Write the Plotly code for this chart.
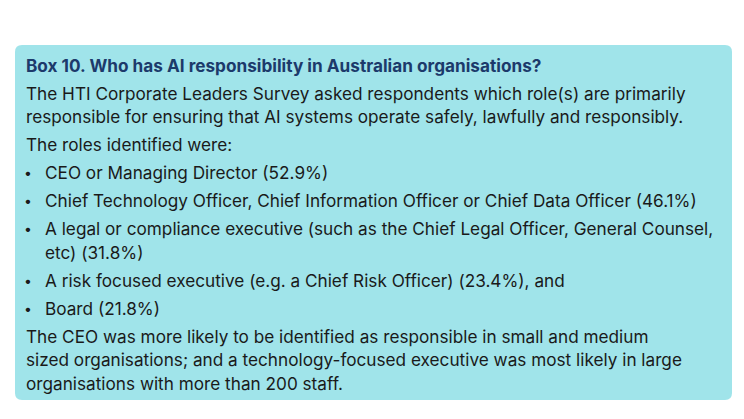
"""Box 10 - AI responsibility in Australian organisations"""
import plotly.graph_objects as go

TITLE = "Box 10. Who has AI responsibility in Australian organisations?"

INTRO = [
    "The HTI Corporate Leaders Survey asked respondents which role(s) are primarily",
    "responsible for ensuring that AI systems operate safely, lawfully and responsibly.",
]
LEAD_IN = ["The roles identified were:"]

# each role can wrap over more than one line, share goes on the last one
ROLES = [
    ["CEO or Managing Director"],
    ["Chief Technology Officer, Chief Information Officer or Chief Data Officer"],
    ["A legal or compliance executive (such as the Chief Legal Officer, General Counsel,",
     "etc)"],
    ["A risk focused executive (e.g. a Chief Risk Officer)"],
    ["Board"],
]
SHARES = [52.9, 46.1, 31.8, 23.4, 21.8]
SUFFIX = ["", "", "", ", and", ""]

CLOSING = [
    "The CEO was more likely to be identified as responsible in small and medium",
    "sized organisations; and a technology-focused executive was most likely in large",
    "organisations with more than 200 staff.",
]

W, H = 744, 419
PAGE_PAD = 8  # default body margin of the html page
BOX_FILL = "#a0e4ea"
TITLE_COLOR = "#1c3a6b"
TEXT_COLOR = "#1a1a1a"
FONT = "Inter"
FONT_SIZE = 17.2
LINE_H = 23.5
PARA_GAP = 4.5
TEXT_X = 24
BULLET_X = 22
INDENT_X = 43


def _rounded_box(x0, y0, x1, y1, r):
    return (f"M {x0+r},{y0} L {x1-r},{y0} Q {x1},{y0} {x1},{y0+r} "
            f"L {x1},{y1-r} Q {x1},{y1} {x1-r},{y1} "
            f"L {x0+r},{y1} Q {x0},{y1} {x0},{y1-r} "
            f"L {x0},{y0+r} Q {x0},{y0} {x0+r},{y0} Z")


def _text(x, y, txt, bold=False, color=TEXT_COLOR, size=FONT_SIZE):
    return dict(
        x=x, y=y, xref="x", yref="y", text=txt, showarrow=False,
        xanchor="left", yanchor="middle", align="left",
        font=dict(family=FONT, size=size, color=color,
                  weight=700 if bold else 400),
    )


def main():
    fig = go.Figure()
    fig.add_shape(type="path", path=_rounded_box(15, 45, 732, 400, 7),
                  xref="x", yref="y", fillcolor=BOX_FILL,
                  line=dict(width=0), layer="below")

    notes = [_text(TEXT_X, 65, TITLE, bold=True, color=TITLE_COLOR)]
    y = 65 + LINE_H + PARA_GAP

    for para in (INTRO, LEAD_IN):
        for line in para:
            notes.append(_text(TEXT_X, y, line))
            y += LINE_H
        y += PARA_GAP

    for lines, share, suf in zip(ROLES, SHARES, SUFFIX):
        notes.append(_text(BULLET_X, y, "•", size=14))
        for i, line in enumerate(lines):
            if i == len(lines) - 1:
                line = f"{line} ({share:.1f}%){suf}"
            notes.append(_text(INDENT_X, y, line))
            y += LINE_H
        y += PARA_GAP

    for line in CLOSING:
        notes.append(_text(TEXT_X, y, line))
        y += LINE_H

    fig.update_layout(
        width=W - 2 * PAGE_PAD, height=H - 2 * PAGE_PAD,
        margin=dict(l=0, r=0, t=0, b=0),
        paper_bgcolor="white", plot_bgcolor="white",
        xaxis=dict(range=[PAGE_PAD, W - PAGE_PAD], visible=False, fixedrange=True),
        yaxis=dict(range=[H - PAGE_PAD, PAGE_PAD], visible=False, fixedrange=True),
        annotations=notes,
        showlegend=False,
    )
    fig.write_html("out.html")


if __name__ == "__main__":
    main()
